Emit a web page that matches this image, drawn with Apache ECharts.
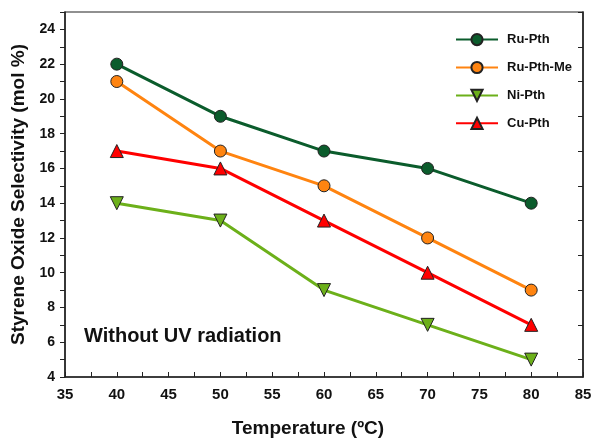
<!DOCTYPE html>
<html>
<head>
<meta charset="utf-8">
<script src="https://cdn.jsdelivr.net/npm/echarts@6/dist/echarts.min.js"></script>
<style>
  html, body { margin: 0; padding: 0; background: #fff; }
  #chart { width: 595px; height: 439px; }
</style>
</head>
<body>
<div id="chart"></div>
<script>
// Temperatures (ºC) and styrene oxide selectivity (mol %) per catalyst
const temperatures = [40, 50, 60, 70, 80];
const ruPth   = [22, 19, 17, 16, 14];
const ruPthMe = [21, 17, 15, 12, 9];
const niPth   = [14, 13, 9, 7, 5];
const cuPth   = [17, 16, 13, 10, 7];

const rightTicks = [5, 7, 9, 11, 13, 15, 17, 19, 21, 23, 25];

const FONT = 'Liberation Sans, Arial, sans-serif';

function pairs(ys) {
  return temperatures.map((t, i) => [t, ys[i]]);
}

function lineSeries(name, ys, color, symbol, rotate, size) {
  return {
    name: name,
    type: 'line',
    data: pairs(ys),
    symbol: symbol,
    symbolSize: size,
    symbolRotate: rotate,
    showAllSymbol: true,
    lineStyle: { color: color, width: 3 },
    itemStyle: { color: color, borderColor: '#222', borderWidth: 1 },
    emphasis: { disabled: true },
    z: 3
  };
}

const chart = echarts.init(document.getElementById('chart'), null, { renderer: 'canvas' });

chart.setOption({
  animation: false,
  backgroundColor: '#fff',
  grid: {
    left: 65, right: 12, top: 12, bottom: 62,
    containLabel: false,
    outerBoundsMode: 'none',
    show: true, borderColor: '#222', borderWidth: 1.2, backgroundColor: 'transparent'
  },
  legend: {
    orient: 'vertical',
    left: 450,
    top: 28,
    itemWidth: 42,
    itemHeight: 14,
    itemGap: 14.7,
    textStyle: { fontFamily: FONT, fontWeight: 'bold', fontSize: 13, color: '#111', padding: [0, 0, 0, 4] },
    data: ['Ru-Pth', 'Ru-Pth-Me', 'Ni-Pth', 'Cu-Pth']
  },
  xAxis: {
    type: 'value',
    min: 35, max: 85, interval: 5,
    name: 'Temperature (ºC)',
    nameLocation: 'middle',
    nameGap: 42,
    nameTextStyle: { fontFamily: FONT, fontWeight: 'bold', fontSize: 19, color: '#111', padding: [0, 32, 0, 0] },
    axisLine: { show: true, lineStyle: { color: '#222', width: 1.5 } },
    axisTick: { show: true, inside: true, length: 5, lineStyle: { color: '#222', width: 1 } },
    minorTick: { show: true, splitNumber: 2, length: 5, lineStyle: { color: '#222', width: 1 } },
    axisLabel: { fontFamily: FONT, fontWeight: 'bold', fontSize: 15, color: '#111', margin: 10 },
    splitLine: { show: false }
  },
  yAxis: [{
    type: 'value',
    min: 4, max: 25, interval: 2,
    name: 'Styrene Oxide Selectivity (mol %)',
    nameLocation: 'middle',
    nameGap: 34,
    nameTextStyle: { fontFamily: FONT, fontWeight: 'bold', fontSize: 19, color: '#111' },
    axisLine: { show: true, lineStyle: { color: '#222', width: 1.5 } },
    axisTick: { show: true, inside: false, length: 5, lineStyle: { color: '#222', width: 1 } },
    minorTick: { show: true, splitNumber: 2, length: 5, lineStyle: { color: '#222', width: 1 } },
    axisLabel: {
      fontFamily: FONT, fontWeight: 'bold', fontSize: 14, color: '#111', margin: 10,
      formatter: v => (v % 2 === 0 && v <= 24 ? String(v) : '')
    },
    splitLine: { show: false }
  }, {
    type: 'value',
    position: 'right',
    min: 4, max: 25,
    axisLine: { show: true, lineStyle: { color: '#222', width: 1.5 } },
    axisTick: { show: true, inside: true, length: 5, customValues: rightTicks, lineStyle: { color: '#222', width: 1 } },
    axisLabel: { show: false },
    splitLine: { show: false }
  }],
  graphic: [{
    type: 'text',
    left: 84,
    top: 326,
    style: { text: 'Without UV radiation', font: 'bold 20px ' + FONT, fill: '#111' }
  }],
  series: [
    lineSeries('Ru-Pth', ruPth, '#0b5c2c', 'circle', 0, 12),
    lineSeries('Ru-Pth-Me', ruPthMe, '#ff8410', 'circle', 0, 12),
    lineSeries('Ni-Pth', niPth, '#6cb01a', 'triangle', 180, 13),
    lineSeries('Cu-Pth', cuPth, '#ff0000', 'triangle', 0, 13)
  ]
});
</script>
</body>
</html>
